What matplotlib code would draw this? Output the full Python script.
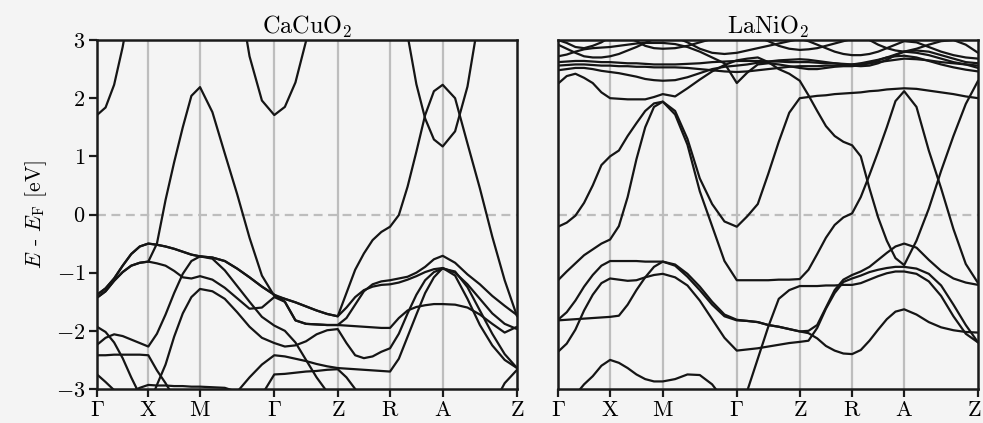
import numpy as np
import matplotlib.pyplot as plt
from matplotlib.transforms import offset_copy

plt.rcParams['font.family'] = 'cmr10'
plt.rcParams['mathtext.fontset'] = 'cm'
plt.rcParams['axes.unicode_minus'] = False

# high-symmetry path and its labels
path_labels = [r'$\Gamma$', r'$\mathrm{X}$', r'$\mathrm{M}$', r'$\Gamma$',
               r'$\mathrm{Z}$', r'$\mathrm{R}$', r'$\mathrm{A}$', r'$\mathrm{Z}$']
cacuo2_nodes = [0.0, 0.498, 1.0, 1.721, 2.337, 2.845, 3.356, 4.078]
lanio2_nodes = [0.0, 0.497, 1.0, 1.707, 2.308, 2.808, 3.305, 4.011]
pts_per_segment = 6

# CaCuO2 bands (eV), sampled at 6 steps per path segment
cacuo2_bands = [
    [1.71, 1.84, 2.23, 2.88, 3.7, 4.5, 5.2,
     5.8, 6.2, 6.5, 6.7, 6.8, 6.8,
     6.5, 5.75, 3.98, 2.72, 1.96, 1.71,
     1.85, 2.27, 2.98, 3.96, 5.0, 5.8,
     5.6, 5.4, 5.3, 5.2, 5.1, 5.0,
     4.16, 3.08, 2.24, 1.65, 1.29, 1.17,
     1.43, 2.2, 3.48, 4.8, 5.6, 6.0],
    [-1.43, -1.32, -1.14, -0.99, -0.88, -0.83, -0.81,
     -0.5, 0.25, 0.9, 1.5, 2.04, 2.19,
     1.76, 1.05, 0.35, -0.4, -1.05, -1.4,
     -1.45, -1.51, -1.58, -1.65, -1.71, -1.75,
     -1.35, -0.95, -0.67, -0.44, -0.3, -0.21,
     -0.01, 0.48, 1.08, 1.71, 2.12, 2.23,
     2.0, 1.22, 0.45, -0.38, -1.13, -1.75],
    [-1.38, -1.27, -1.1, -0.88, -0.68, -0.55, -0.5,
     -0.52, -0.55, -0.59, -0.64, -0.69, -0.72,
     -0.74, -0.8, -0.93, -1.08, -1.24, -1.38,
     -1.5, -1.82, -1.88, -1.89, -1.9, -1.9,
     -1.91, -1.92, -1.93, -1.94, -1.95, -1.95,
     -1.78, -1.65, -1.59, -1.56, -1.54, -1.54,
     -1.55, -1.6, -1.72, -1.88, -2.03, -1.93],
    [-1.43, -1.32, -1.14, -0.99, -0.88, -0.83, -0.81,
     -0.84, -0.88, -0.97, -1.08, -1.1, -1.06,
     -1.12, -1.26, -1.44, -1.62, -1.6, -1.42,
     -1.5, -1.82, -1.88, -1.89, -1.9, -1.9,
     -1.78, -1.55, -1.32, -1.2, -1.15, -1.13,
     -1.1, -1.07, -1.0, -0.9, -0.77, -0.71,
     -0.83, -1.03, -1.2, -1.4, -1.57, -1.73],
    [-1.38, -1.27, -1.1, -0.88, -0.68, -0.55, -0.5,
     -0.52, -0.55, -0.59, -0.64, -0.69, -0.72,
     -0.74, -0.8, -0.93, -1.08, -1.24, -1.38,
     -1.45, -1.51, -1.58, -1.65, -1.71, -1.75,
     -1.6, -1.42, -1.3, -1.24, -1.21, -1.2,
     -1.17, -1.12, -1.06, -0.99, -0.94, -0.92,
     -1.0, -1.2, -1.45, -1.7, -1.88, -1.97],
    [-3.8, -3.8, -3.7, -3.6, -3.5, -3.4, -3.3,
     -2.93, -2.58, -2.1, -1.7, -1.42, -1.28,
     -1.32, -1.45, -1.68, -1.93, -2.12, -2.21,
     -2.27, -2.25, -2.18, -2.06, -1.99, -1.97,
     -2.21, -2.42, -2.47, -2.44, -2.36, -2.3,
     -2.05, -1.7, -1.38, -1.13, -0.99, -0.93,
     -0.98, -1.25, -1.65, -2.05, -2.4, -2.64],
    [-2.24, -2.12, -2.06, -2.09, -2.15, -2.21, -2.27,
     -2.05, -1.72, -1.35, -1.02, -0.8, -0.72,
     -0.76, -0.96, -1.23, -1.5, -1.76, -1.91,
     -2.0, -2.2, -2.5, -2.8, -3.05, -3.3,
     -3.5, -3.5, -3.5, -3.5, -3.5, -3.5,
     -3.5, -3.5, -3.5, -3.5, -3.5, -3.5,
     -3.5, -3.5, -3.5, -3.5, -3.5, -3.5],
    [-2.75, -2.88, -3.02, -3.1, -3.05, -2.98, -2.93,
     -2.94, -2.94, -2.95, -2.95, -2.96, -2.96,
     -2.97, -2.98, -3.05, -2.8, -2.58, -2.42,
     -2.44, -2.48, -2.52, -2.57, -2.61, -2.64,
     -2.65, -2.66, -2.67, -2.68, -2.69, -2.7,
     -2.48, -2.1, -1.72, -1.35, -1.08, -0.92,
     -1.05, -1.45, -1.9, -2.25, -2.5, -2.64],
    [-2.42, -2.42, -2.41, -2.41, -2.41, -2.41, -2.42,
     -2.68, -2.9, -3.15, -3.4, -3.6, -3.6,
     -3.6, -3.6, -3.5, -3.35, -3.1, -2.75,
     -2.74, -2.72, -2.7, -2.69, -2.67, -2.66,
     -2.8, -3.0, -3.2, -3.4, -3.5, -3.6,
     -3.7, -3.8, -3.9, -4.0, -4.0, -4.0,
     -4.0, -3.9, -3.7, -3.3, -2.9, -2.67],
    [-1.93, -2.02, -2.2, -2.47, -2.8, -3.1, -3.4,
     -3.6, -3.6, -3.6, -3.6, -3.6, -3.6,
     -3.6, -3.6, -3.6, -3.6, -3.6, -3.6,
     -3.6, -3.6, -3.6, -3.6, -3.6, -3.6,
     -3.6, -3.6, -3.6, -3.6, -3.6, -3.6,
     -3.6, -3.6, -3.6, -3.6, -3.6, -3.6,
     -3.6, -3.6, -3.6, -3.6, -3.6, -3.6],
]

# LaNiO2 bands (eV), same sampling
lanio2_bands = [
    [-0.21, -0.14, -0.02, 0.2, 0.5, 0.85, 1.0,
     1.1, 1.35, 1.57, 1.78, 1.91, 1.94,
     1.78, 1.3, 0.62, 0.18, -0.12, -0.21,
     -0.03, 0.18, 0.7, 1.25, 1.75, 2.0,
     2.02, 2.04, 2.05, 2.07, 2.08, 2.09,
     2.1, 2.12, 2.13, 2.15, 2.16, 2.17,
     2.16, 2.13, 2.1, 2.07, 2.03, 2.0],
    [-1.13, -0.98, -0.84, -0.7, -0.6, -0.5, -0.43,
     -0.2, 0.3, 0.95, 1.5, 1.85, 1.94,
     1.72, 1.2, 0.4, -0.2, -0.8, -1.13,
     -1.13, -1.13, -1.13, -1.12, -1.12, -1.11,
     -0.95, -0.68, -0.4, -0.18, -0.05, 0.02,
     0.3, 0.68, 1.08, 1.5, 1.95, 2.12,
     1.85, 1.1, 0.45, -0.25, -0.85, -1.18],
    [2.25, 2.38, 2.42, 2.35, 2.26, 2.1, 2.0,
     1.99, 1.98, 1.98, 1.98, 2.02, 2.07,
     2.03, 2.17, 2.32, 2.46, 2.57, 2.65,
     2.68, 2.7, 2.62, 2.5, 2.42, 2.3,
     2.05, 1.78, 1.52, 1.35, 1.25, 1.19,
     1.0, 0.45, -0.05, -0.45, -0.75, -0.87,
     -0.45, 0.1, 0.75, 1.35, 1.9, 2.3],
    [-1.81, -1.68, -1.48, -1.24, -1.04, -0.88, -0.8,
     -0.8, -0.8, -0.8, -0.81, -0.81, -0.81,
     -0.86, -1.02, -1.24, -1.5, -1.72, -1.81,
     -1.83, -1.85, -1.9, -1.93, -1.97, -2.01,
     -2.04, -2.13, -2.26, -2.34, -2.39, -2.4,
     -2.33, -2.17, -1.98, -1.8, -1.67, -1.63,
     -1.72, -1.85, -1.94, -1.99, -2.02, -2.03],
    [-1.82, -1.81, -1.8, -1.79, -1.78, -1.77, -1.76,
     -1.74, -1.55, -1.3, -1.08, -0.9, -0.81,
     -0.88, -1.07, -1.3, -1.55, -1.75, -1.82,
     -1.83, -1.85, -1.9, -1.93, -1.97, -2.01,
     -2.0, -1.9, -1.6, -1.3, -1.12, -1.04,
     -0.98, -0.9, -0.78, -0.66, -0.55, -0.5,
     -0.57, -0.78, -0.97, -1.1, -1.17, -1.21],
    [-2.36, -2.22, -1.98, -1.65, -1.38, -1.18, -1.1,
     -1.12, -1.14, -1.13, -1.08, -1.04, -1.02,
     -1.08, -1.22, -1.48, -1.8, -2.12, -2.34,
     -2.32, -2.3, -2.27, -2.24, -2.21, -2.19,
     -2.17, -1.95, -1.62, -1.35, -1.16, -1.1,
     -1.05, -0.99, -0.95, -0.92, -0.9, -0.9,
     -0.93, -1.02, -1.22, -1.55, -1.9, -2.2],
    [-3.6, -3.35, -3.1, -2.92, -2.78, -2.6, -2.5,
     -2.55, -2.64, -2.75, -2.83, -2.87, -2.87,
     -2.83, -2.75, -2.76, -2.92, -3.2, -3.6,
     -3.03, -2.48, -1.93, -1.45, -1.3, -1.23,
     -1.23, -1.23, -1.22, -1.22, -1.21, -1.21,
     -1.18, -1.12, -1.06, -1.01, -0.98, -0.98,
     -1.02, -1.15, -1.4, -1.75, -2.05, -2.2],
    [2.62, 2.63, 2.64, 2.64, 2.63, 2.62, 2.62,
     2.61, 2.6, 2.6, 2.59, 2.58, 2.58,
     2.58, 2.59, 2.6, 2.62, 2.63, 2.64,
     2.64, 2.64, 2.63, 2.63, 2.62, 2.62,
     2.62, 2.61, 2.6, 2.6, 2.59, 2.58,
     2.59, 2.6, 2.62, 2.64, 2.66, 2.68,
     2.67, 2.65, 2.62, 2.6, 2.58, 2.56],
    [2.56, 2.57, 2.58, 2.58, 2.57, 2.56, 2.56,
     2.55, 2.55, 2.54, 2.54, 2.53, 2.53,
     2.53, 2.52, 2.5, 2.48, 2.46, 2.45,
     2.46, 2.48, 2.5, 2.52, 2.54, 2.55,
     2.55, 2.55, 2.56, 2.56, 2.57, 2.58,
     2.6, 2.63, 2.66, 2.7, 2.72, 2.73,
     2.7, 2.64, 2.58, 2.53, 2.49, 2.46],
    [2.48, 2.5, 2.52, 2.52, 2.5, 2.47, 2.45,
     2.43, 2.4, 2.37, 2.33, 2.31, 2.3,
     2.31, 2.36, 2.43, 2.5, 2.54, 2.56,
     2.58, 2.61, 2.63, 2.65, 2.66, 2.67,
     2.66, 2.64, 2.62, 2.6, 2.58, 2.56,
     2.55, 2.56, 2.6, 2.66, 2.74, 2.8,
     2.82, 2.8, 2.74, 2.68, 2.62, 2.6],
    [2.72, 2.75, 2.8, 2.84, 2.86, 2.87, 2.88,
     2.9, 2.92, 2.94, 2.95, 2.95, 2.95,
     2.93, 2.88, 2.8, 2.7, 2.6, 2.26,
     2.44, 2.58, 2.6, 2.58, 2.55, 2.52,
     2.5, 2.5, 2.52, 2.54, 2.55, 2.55,
     2.57, 2.6, 2.65, 2.7, 2.75, 2.8,
     2.85, 2.92, 2.98, 3.0, 2.92, 2.78],
    [2.92, 2.85, 2.78, 2.72, 2.7, 2.7, 2.72,
     2.76, 2.82, 2.88, 2.95, 3.02, 3.1,
     3.05, 2.96, 2.85, 2.78, 2.76, 2.78,
     2.82, 2.86, 2.9, 2.94, 2.98, 3.02,
     2.98, 2.92, 2.86, 2.8, 2.76, 2.74,
     2.74, 2.76, 2.8, 2.86, 2.92, 2.98,
     2.96, 2.88, 2.8, 2.74, 2.7, 2.68],
    [3.0, 2.95, 2.88, 2.86, 2.9, 2.96, 3.05,
     3.1, 3.05, 2.98, 2.9, 2.86, 2.85,
     2.86, 2.9, 2.96, 3.02, 3.08, 3.12,
     3.1, 3.05, 2.98, 2.9, 2.85, 2.83,
     2.84, 2.86, 2.9, 2.94, 2.98, 3.02,
     3.05, 3.0, 2.92, 2.86, 2.82, 2.8,
     2.78, 2.74, 2.68, 2.62, 2.58, 2.52],
]

energy_ticks = [-3, -2, -1, 0, 1, 2, 3]

bg = '#f4f4f4'
line_color = '#151515'
guide_color = '#bdbdbd'


def kpath(nodes):
    k = [nodes[0]]
    for a, b in zip(nodes[:-1], nodes[1:]):
        k.extend(np.linspace(a, b, pts_per_segment + 1)[1:])
    return np.array(k)


def draw_bands(ax, nodes, bands, title):
    k = kpath(nodes)
    for node in nodes[1:-1]:
        ax.axvline(node, color=guide_color, lw=1.6, zorder=0)
    ax.axhline(0, color=guide_color, lw=1.6, ls=(0, (4, 2.5)), zorder=0)
    for band in bands:
        ax.plot(k, band, color=line_color, lw=1.6,
                solid_joinstyle='round', solid_capstyle='round')
    ax.set_xlim(nodes[0], nodes[-1])
    ax.set_ylim(-3, 3)
    ax.set_xticks(nodes)
    ax.set_xticklabels(path_labels)
    ax.set_facecolor(bg)
    for s in ax.spines.values():
        s.set_linewidth(1.8)
        s.set_color('#1a1a1a')
    ax.tick_params(axis='both', direction='out', length=5.5, width=1.6,
                   labelsize=16, pad=3, color='#1a1a1a')
    ax.set_title(title, fontsize=17.5, pad=2)


fig = plt.figure(figsize=(9.83, 4.23), dpi=100, facecolor=bg)

ax1 = fig.add_axes([0.0987, 0.0804, 0.4273, 0.825])
draw_bands(ax1, cacuo2_nodes, cacuo2_bands, r'CaCuO$_2$')
ax1.set_yticks(energy_ticks)
ax1.set_yticklabels([r'$%d$' % v if v >= 0 else r'$-%d$' % -v for v in energy_ticks])
ax1.set_ylabel(r'$E$ - $E_{\mathrm{F}}$ [eV]', fontsize=15.5, labelpad=5)

ax2 = fig.add_axes([0.5677, 0.0804, 0.4273, 0.825])
draw_bands(ax2, lanio2_nodes, lanio2_bands, r'LaNiO$_2$')
ax2.set_yticks([])

# keep the last path label inside the figure
last = ax2.get_xticklabels()[-1]
last.set_transform(offset_copy(last.get_transform(), fig=fig, x=-4, units='dots'))

fig.savefig('out.png', dpi=100, facecolor=bg)
